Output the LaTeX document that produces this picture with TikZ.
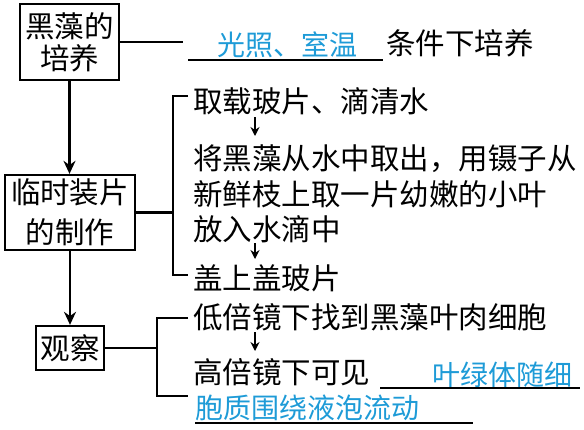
\documentclass[tikz,border=0pt]{standalone}
\usepackage{fontspec}
\setmainfont{Noto Sans CJK SC}
\usetikzlibrary{arrows.meta}
\definecolor{ansblue}{RGB}{30,155,215}
\begin{document}
\begin{tikzpicture}[x=1pt,y=-1pt,
 box/.style={draw,line width=2.3pt,inner sep=0pt,align=center},
 txt/.style={anchor=west,inner sep=0pt,font=\fontsize{29.5}{34}\selectfont},
 ans/.style={anchor=west,inner sep=0pt,text=ansblue,font=\fontsize{28}{34}\selectfont},
 ln/.style={line width=2.2pt},
 bigarrow/.style={line width=2.3pt,-{Stealth[length=13pt,width=12pt]}},
 smallarrow/.style={line width=1.8pt,-{Stealth[length=9pt,width=9pt]}}]
\useasboundingbox (0,0) rectangle (584,429);

% boxes
\node[box,minimum width=99pt,minimum height=76pt,font=\fontsize{29.5}{32}\selectfont] (b1) at (69.5,42) {黑藻的\\培养};
\node[box,minimum width=130pt,minimum height=75pt,font=\fontsize{29.5}{40}\selectfont] (b2) at (70,212.5) {临时装片\\的制作};
\node[box,minimum width=68pt,minimum height=44pt,font=\fontsize{29.5}{34}\selectfont] (b3) at (70,348) {观察};

\draw[bigarrow] (b1.south) -- (b1.south |- b2.north);
\draw[bigarrow] (b2.south) -- (b2.south |- b3.north);

% row 1
\coordinate (c1) at (183,42);
\draw[ln] (b1.east) -- (c1);
\node[ans] (a1) at (217,45) {光照、室温};
\coordinate (u1a) at (188,60);
\coordinate (u1b) at (383,60);
\draw[ln] (u1a) -- (u1b);
\node[txt] (r1) at (386,43) {条件下培养};

% steps of slide preparation
\node[txt] (t1) at (193,101) {取载玻片、滴清水};
\node[txt] (t2) at (193,159) {将黑藻从水中取出，用镊子从};
\node[txt] (t3) at (193,194) {新鲜枝上取一片幼嫩的小叶};
\node[txt] (t4) at (193,229) {放入水滴中};
\node[txt] (t5) at (193,278) {盖上盖玻片};

\coordinate (br1t) at (173,96);
\coordinate (br1b) at (173,275);
\coordinate (k1t) at (188,96);
\coordinate (k1b) at (188,275);
\draw[ln] (b2.east) -- (b2.east -| br1t);
\draw[ln] (k1t) -- (br1t) -- (br1b) -- (k1b);

\coordinate (s1a) at (255,117);
\coordinate (s1b) at (255,136);
\coordinate (s2a) at (255,243);
\coordinate (s2b) at (255,259);
\draw[smallarrow] (s1a) -- (s1b);
\draw[smallarrow] (s2a) -- (s2b);

% observation
\node[txt] (t6) at (193,317) {低倍镜下找到黑藻叶肉细胞};
\node[txt] (t7) at (193,372) {高倍镜下可见};
\node[ans] (a2) at (432,375) {叶绿体随细};
\node[ans] (a3) at (195,408) {胞质围绕液泡流动};
\coordinate (u2a) at (380,388);
\coordinate (u2b) at (580,388);
\coordinate (u3a) at (195,423);
\coordinate (u3b) at (473,423);
\draw[ln] (u2a) -- (u2b);
\draw[ln] (u3a) -- (u3b);

\coordinate (br2t) at (157,318);
\coordinate (br2b) at (157,396);
\coordinate (k2t) at (188,318);
\coordinate (k2b) at (188,396);
\draw[ln] (b3.east) -- (b3.east -| br2t);
\draw[ln] (k2t) -- (br2t) -- (br2b) -- (k2b);

\coordinate (s3a) at (255,332);
\coordinate (s3b) at (255,351);
\draw[smallarrow] (s3a) -- (s3b);
\end{tikzpicture}
\end{document}
